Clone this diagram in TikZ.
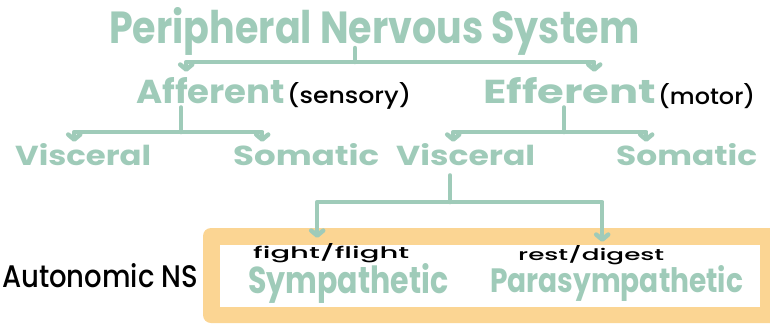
\documentclass[tikz,border=0pt]{standalone}
\usepackage{graphicx}
\usepackage{fontspec}
\setmainfont{Poppins}
\newfontfamily\notefont{Poppins}[UprightFont=* Medium]
\usetikzlibrary{arrows.meta}

\definecolor{sage}{HTML}{9FCBB9}
\definecolor{peach}{HTML}{FBD593}

% hand lettering squeezed to a given width and height
\newcommand{\hw}[3]{\resizebox{#1pt}{#2pt}{#3}}

\tikzset{
  link/.style={sage, line width=4.5pt, line cap=round, line join=round},
  arrow/.style={link, -{Straight Barb[round,length=5pt,width=12pt]}},
  word/.style={inner sep=0pt, sage, font=\bfseries},
  note/.style={inner sep=0pt, black, font=\notefont},
}

\begin{document}
\begin{tikzpicture}[x=1pt,y=-1pt]
    \useasboundingbox (0,0) rectangle (770,324);

    % the autonomic box
    \fill[peach, rounded corners=8pt] (203,228) rectangle (790,323);
    \fill[white] (220,245) rectangle (760,307);

    % words
    \node[word, anchor=base west] (pns) at (109,43) {\hw{530}{36}{Peripheral Nervous System}};
    \node[word, anchor=base west] (aff) at (136,103) {\hw{149}{26}{Afferent}};
    \node[note, anchor=base west] (sens) at (287,103) {\hw{124}{21}{(sensory)}};
    \node[word, anchor=base west] (eff) at (483,103) {\hw{173}{26}{Efferent}};
    \node[note, anchor=base west] (mot) at (658,104) {\hw{97}{21}{(motor)}};
    \node[word, anchor=base west] (vis1) at (15,165) {\hw{136}{22}{Visceral}};
    \node[word, anchor=base west] (som1) at (233,165) {\hw{146}{22}{Somatic}};
    \node[word, anchor=base west] (vis2) at (396,165) {\hw{139}{22}{Visceral}};
    \node[word, anchor=base west] (som2) at (616,165) {\hw{141}{22}{Somatic}};
    \node[note, anchor=base west] (fight) at (253,258) {\hw{156}{15}{fight/flight}};
    \node[word, anchor=base west] (symp) at (248,293) {\hw{200}{30}{Sympathetic}};
    \node[note, anchor=base west] (rest) at (518,260) {\hw{146}{15}{rest/digest}};
    \node[word, anchor=base west] (para) at (490,292) {\hw{253}{27}{Parasympathetic}};
    \node[note, anchor=base west] (auto) at (2,287) {\hw{196}{24}{Autonomic NS}};

    % branches
    \coordinate (top) at (355,62);
    \coordinate (affj) at (181,132);
    \coordinate (effj) at (564,132);
    \coordinate (visj) at (450,202);

    \draw[link] ([yshift=-5pt]pns.base -| top) -- (top);
    \draw[arrow] (top) -| ([xshift=-24.5pt,yshift=5pt]aff.north);
    \draw[arrow] (top) -| ([xshift=24.5pt,yshift=5pt]eff.north);

    \draw[link, shorten <=4pt] (aff.south -| affj) -- (affj);
    \draw[arrow] (affj) -| ([xshift=-9pt,yshift=1pt]vis1.north);
    \draw[arrow] (affj) -| ([xshift=-44pt,yshift=1pt]som1.north);

    \draw[link, shorten <=4pt] (eff.south -| effj) -- (effj);
    \draw[arrow] (effj) -| ([xshift=-12.5pt,yshift=1pt]vis2.north);
    \draw[arrow] (effj) -| ([xshift=-40.5pt,yshift=1pt]som2.north);

    \draw[link, shorten <=10pt] (vis2.south -| visj) -- (visj);
    \draw[arrow] (visj) -| ([xshift=-14pt,yshift=5pt]fight.north);
    \draw[arrow] (visj) -| ([xshift=11pt,yshift=3pt]rest.north);

\end{tikzpicture}
\end{document}
